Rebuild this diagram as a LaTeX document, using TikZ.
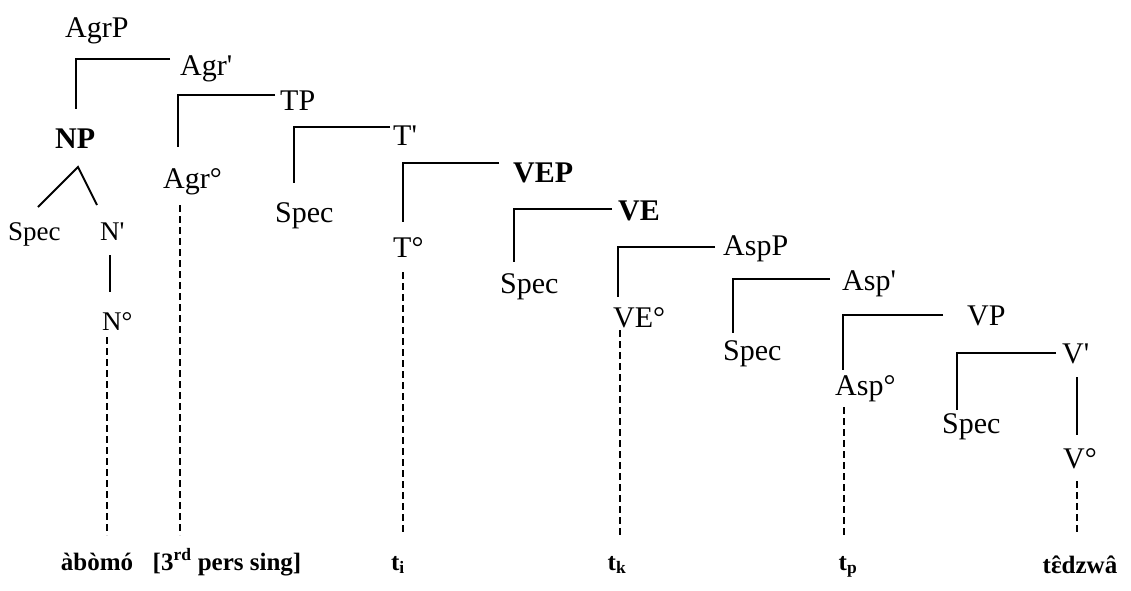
\documentclass[tikz,border=0pt]{standalone}
\usepackage{fontspec}
\setmainfont{Liberation Serif}
\newfontfamily\apfont{Liberation Serif}
\newcommand\ap{{\apfont'}}
\usetikzlibrary{calc}
\tikzset{
  lab/.style={anchor=base west, inner sep=0pt, font=\fontsize{30}{30}\selectfont},
  labb/.style={lab, font=\fontsize{30}{30}\selectfont\bfseries},
  labs/.style={lab, font=\fontsize{27}{27}\selectfont},
  bot/.style={anchor=base, inner sep=0pt, font=\fontsize{25}{25}\selectfont\bfseries},
  ln/.style={line width=2pt},
  dsh/.style={line width=2pt, dash pattern=on 7pt off 4pt},
}
% bracket: mother, gap, up, daughter, dx, up
\newcommand\tbrk[6]{\draw[ln] let \p1=(#1.base west), \p2=(#4.base west) in (\x1-#2pt,\y1+#3pt) -| (\x2+#5pt,\y2+#6pt);}
% vertical: style, upper node, dx, down, lower node, up
\newcommand\tvl[6]{\draw[#1] let \p1=(#2.base west), \p2=(#5.base) in (\x1+#3pt,\y1-#4pt) -- (\x1+#3pt,\y2+#6pt);}
\begin{document}
\begin{tikzpicture}[x=1pt,y=-1pt]
\useasboundingbox (0,0) rectangle (1131,590);
% labels
\node[lab]  (agrp)   at (65,37)   {AgrP};
\node[lab]  (agrbar) at (180,75)  {Agr\ap};
\node[lab]  (tp)     at (280,110) {TP};
\node[labb] (np)     at (55,148)  {NP};
\node[lab]  (tbar)   at (393,145) {T\ap};
\node[lab]  (agr0)   at (163,188) {Agr°};
\node[labb] (vep)    at (513,182) {VEP};
\node[labs] (spec0)  at (8,240)   {Spec};
\node[labs] (nbar)   at (100,240) {N\ap};
\node[labb] (ve)     at (618,220) {VE};
\node[lab]  (spec1)  at (275,222) {Spec};
\node[lab]  (t0)     at (393,257) {T°};
\node[lab]  (aspp)   at (723,255) {AspP};
\node[lab]  (spec2)  at (500,293) {Spec};
\node[lab]  (aspbar) at (842,290) {Asp\ap};
\node[lab]  (ve0)    at (613,327) {VE°};
\node[lab]  (vp)     at (967,325) {VP};
\node[lab]  (spec3)  at (723,360) {Spec};
\node[lab]  (vbar)   at (1062,363){V\ap};
\node[lab]  (asp0)   at (835,395) {Asp°};
\node[lab]  (spec4)  at (942,433) {Spec};
\node[labs] (n0)     at (102,330) {N°};
\node[lab]  (v0)     at (1063,468){V°};
% bottom words
\node[bot] (w1) at (97,570)  {àbòmó};
\node[bot] (w2) at (227,570) {[3\textsuperscript{rd} pers sing]};
\node[bot] (w3) at (398,570) {t\textsubscript{i}};
\node[bot] (w4) at (617,570) {t\textsubscript{k}};
\node[bot] (w5) at (848,570) {t\textsubscript{p}};
\node[bot] (w6) at (1080,573) {t{\accent"02C6 ɛ}dzwâ};
% brackets
\tbrk{agrbar}{10}{16}{np}{21}{39}
\tbrk{tp}{5}{15}{agr0}{15}{41}
\tbrk{tbar}{3}{18}{spec1}{19}{39}
\tbrk{vep}{14}{19}{t0}{10}{35}
\tbrk{ve}{6}{11}{spec2}{14}{31}
\tbrk{aspp}{8}{8}{ve0}{5}{30}
\tbrk{aspbar}{12}{11}{spec3}{10}{27}
\tbrk{vp}{24}{10}{asp0}{8}{25}
\tbrk{vbar}{6}{10}{spec4}{15}{23}
% NP triangle
\draw[ln] let \p1=(np.base west), \p2=(spec0.base west), \p3=(nbar.base west) in
  (\x2+30pt,\y2+33pt) -- (\x1+23pt,\y1-19pt) -- (\x3-3pt,\y3+35pt);
% solid verticals
\tvl{ln}{nbar}{10}{15}{n0}{38}
\tvl{ln}{vbar}{15}{14}{v0}{33}
% dashed verticals
\tvl{dsh}{n0}{5}{7}{w1}{35}
\tvl{dsh}{agr0}{17}{17}{w2}{35}
\tvl{dsh}{t0}{10}{15}{w3}{35}
\tvl{dsh}{ve0}{7}{3}{w4}{35}
\tvl{dsh}{asp0}{9}{12}{w5}{35}
\tvl{dsh}{v0}{14}{13}{w6}{38}
\end{tikzpicture}
\end{document}
